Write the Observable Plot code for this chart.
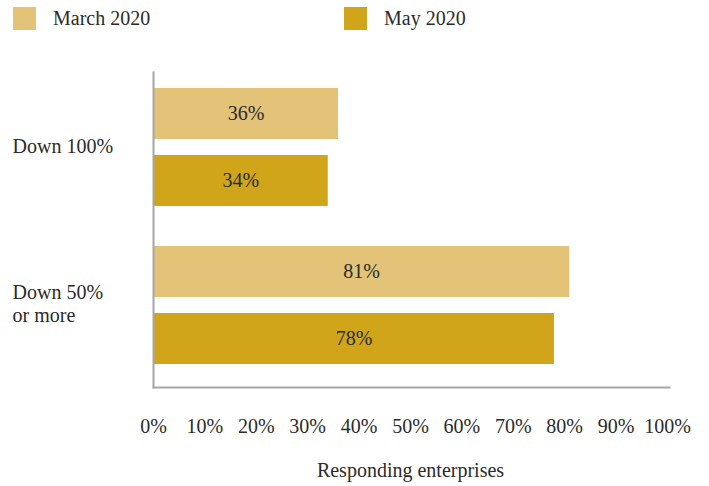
<!DOCTYPE html>
<html>
<head>
<meta charset="utf-8">
<script src="https://cdn.jsdelivr.net/npm/d3@7"></script>
<script src="https://cdn.jsdelivr.net/npm/@observablehq/plot@0.6"></script>
<style>
  html, body { margin: 0; padding: 0; background: #fff; }
  body { width: 709px; height: 486px; overflow: hidden; font-family: "Liberation Serif", serif; color: #2b2b2b; }
  #legend { position: relative; height: 40px; font-size: 20px; }
  .item { position: absolute; top: 7px; display: flex; align-items: center; }
  .sw { width: 23px; height: 23px; margin-right: 17px; }
</style>
</head>
<body>
<div id="legend"></div>
<div id="chart"></div>
<script>
const categories = ["Down 100%", "Down 50% or more"];
const seriesNames = ["March 2020", "May 2020"];
const seriesColors = ["#e2c377", "#d0a51a"];
const march2020 = [36, 81];
const may2020 = [34, 78];
const xTicks = [0, 10, 20, 30, 40, 50, 60, 70, 80, 90, 100];
const axisTitle = "Responding enterprises";

const data = [];
categories.forEach((c, i) => {
  data.push({category: c, series: seriesNames[0], value: march2020[i]});
  data.push({category: c, series: seriesNames[1], value: may2020[i]});
});

// legend
const legend = document.getElementById("legend");
const legendLeft = [13, 344];
seriesNames.forEach((s, i) => {
  const it = document.createElement("div");
  it.className = "item";
  it.style.left = legendLeft[i] + "px";
  it.innerHTML = `<div class="sw" style="background:${seriesColors[i]}"></div><span>${s}</span>`;
  legend.appendChild(it);
});

const chart = Plot.plot({
  width: 709,
  height: 446,
  marginTop: 32,
  marginBottom: 99,
  marginLeft: 153,
  marginRight: 42,
  style: {fontFamily: "Liberation Serif, serif", fontSize: "20px", color: "#2b2b2b", background: "#fff"},
  x: {domain: [0, 100], axis: null},
  y: {domain: seriesNames, paddingInner: 0.235, paddingOuter: 0, axis: null},
  fy: {domain: categories, paddingInner: 0.2405, paddingOuter: 0.117, align: 0.405, axis: null, label: null},
  color: {domain: seriesNames, range: seriesColors},
  marks: [
    Plot.barX(data, {x: "value", y: "series", fy: "category", fill: "series"}),
    Plot.text(data, {x: d => d.value / 2, y: "series", fy: "category", text: d => d.value + "%", fill: "#2b2b2b", fontSize: 20}),
    Plot.axisFy({anchor: "left", label: null, tickSize: 0, textAnchor: "start", dx: -132, dy: -2, lineWidth: 6, lineHeight: 1.15, fontSize: 20, fill: "#2b2b2b"}),
    Plot.frame({anchor: "left", facet: "super", stroke: "#a6a6a6", strokeWidth: 2, insetTop: -15, insetBottom: -22}),
    Plot.frame({anchor: "bottom", facet: "super", stroke: "#a6a6a6", strokeWidth: 2, insetBottom: -22, insetRight: -2}),
    Plot.axisX({anchor: "bottom", ticks: xTicks, tickSize: 0, tickPadding: 53, tickFormat: d => d + "%", fontSize: 20, label: null}),
    Plot.axisX({anchor: "bottom", ticks: [], tickSize: 0, fontSize: 20,
      label: axisTitle, labelAnchor: "center", labelOffset: 111, labelArrow: "none"})
  ]
});
document.getElementById("chart").appendChild(chart);
</script>
</body>
</html>
